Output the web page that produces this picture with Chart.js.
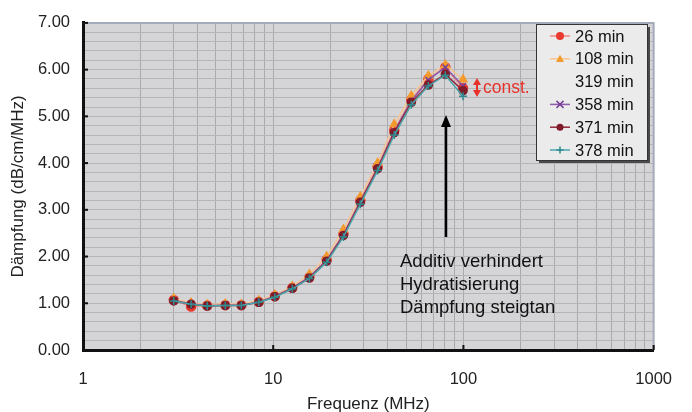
<!DOCTYPE html>
<html lang="de">
<head>
    <meta charset="UTF-8">
    <title>Dämpfung vs Frequenz</title>
    <script src="https://cdn.jsdelivr.net/npm/chart.js"></script>
    <style>
        body { margin: 0; background: #fff; }
        #wrap { width: 692px; height: 412px; }
    </style>
</head>
<body>
<div id="wrap"><canvas id="daempfungChart" width="692" height="412"></canvas></div>
<script>
    // Frequenzen (MHz) und Messreihen (dB/cm/MHz)
    const freq = [3.0, 3.7, 4.5, 5.6, 6.8, 8.4, 10.2, 12.6, 15.5, 19.1, 23.4, 28.7, 35.4, 43.3, 53.2, 65.4, 80.3, 99.5];
    const min26  = [1.07, 0.93, 0.95, 0.96, 0.96, 1.03, 1.15, 1.33, 1.56, 1.93, 2.48, 3.20, 3.92, 4.70, 5.35, 5.80, 6.05, 5.60];
    const min108 = [1.10, 1.01, 0.97, 0.99, 0.98, 1.06, 1.18, 1.36, 1.62, 2.00, 2.58, 3.28, 4.00, 4.83, 5.44, 5.87, 6.10, 5.79];
    const min319 = [1.06, 0.98, 0.95, 0.96, 0.96, 1.03, 1.15, 1.33, 1.55, 1.91, 2.46, 3.17, 3.89, 4.66, 5.31, 5.72, 5.96, 5.58];
    const min358 = [1.06, 0.99, 0.95, 0.96, 0.96, 1.03, 1.15, 1.33, 1.56, 1.92, 2.47, 3.18, 3.90, 4.68, 5.33, 5.78, 6.05, 5.65];
    const min371 = [1.05, 0.98, 0.94, 0.95, 0.95, 1.02, 1.14, 1.32, 1.54, 1.90, 2.45, 3.16, 3.88, 4.65, 5.30, 5.67, 5.90, 5.55];
    const min378 = [1.05, 0.98, 0.94, 0.95, 0.95, 1.02, 1.13, 1.31, 1.53, 1.88, 2.42, 3.12, 3.84, 4.60, 5.25, 5.65, 5.88, 5.43];

    const xTicks = [1, 2, 3, 4, 5, 6, 7, 8, 9, 10, 20, 30, 40, 50, 60, 70, 80, 90, 100, 200, 300, 400, 500, 600, 700, 800, 900, 1000];
    const xLabels = [1, 10, 100, 1000];
    const yLabels = [0, 1, 2, 3, 4, 5, 6, 7];

    const FONT = '"Liberation Sans", Arial, sans-serif';

    function pts(vals) {
        return freq.map((f, i) => ({ x: f, y: vals[i] }));
    }

    // Serien: Reihenfolge wie Legende, spätere liegen oben
    const series = [
        { label: '26 min',  data: min26,  line: '#f3877e', fill: '#e8392f', edge: '#e8392f', style: 'circle',   r: 4.5 },
        { label: '108 min', data: min108, line: '#f6c593', fill: '#f39a2c', edge: '#f39a2c', style: 'triangle', r: 4.5 },
        { label: '319 min', data: min319, line: 'rgba(0,0,0,0)', fill: 'rgba(0,0,0,0)', edge: 'rgba(0,0,0,0)', style: 'circle', r: 0 },
        { label: '358 min', data: min358, line: '#8f5cab', fill: '#7a3f98', edge: '#7a3f98', style: 'crossRot', r: 4 },
        { label: '371 min', data: min371, line: '#93283a', fill: '#7e1c2a', edge: '#7e1c2a', style: 'circle',   r: 4 },
        { label: '378 min', data: min378, line: '#4aa6ab', fill: '#2e8a90', edge: '#2e8a90', style: 'cross',    r: 4 }
    ];

    // Hintergrund + Rahmen der Zeichenfläche
    const plotArea = {
        id: 'plotArea',
        beforeDraw(chart) {
            const { ctx, chartArea: a } = chart;
            ctx.save();
            ctx.fillStyle = '#d5d5d7';
            ctx.fillRect(a.left, a.top, a.right - a.left, a.bottom - a.top);
            ctx.restore();
        },
        afterDraw(chart) {
            const { ctx, chartArea: a, scales } = chart;
            ctx.save();
            // Rahmen oben/rechts
            ctx.strokeStyle = '#a3abbb';
            ctx.lineWidth = 2;
            ctx.beginPath();
            ctx.moveTo(a.left, a.top);
            ctx.lineTo(a.right, a.top);
            ctx.lineTo(a.right, a.bottom);
            ctx.stroke();
            // kleine Striche innen
            ctx.strokeStyle = '#111';
            ctx.lineWidth = 2;
            yLabels.forEach(v => {
                const y = scales.y.getPixelForValue(v);
                ctx.beginPath();
                ctx.moveTo(a.left, y);
                ctx.lineTo(a.left + 5, y);
                ctx.stroke();
            });
            xLabels.forEach(v => {
                const x = scales.x.getPixelForValue(v);
                ctx.beginPath();
                ctx.moveTo(x, a.bottom);
                ctx.lineTo(x, a.bottom - 5);
                ctx.stroke();
            });
            ctx.restore();
        }
    };

    function drawMarker(ctx, style, x, y, r, fill, edge) {
        ctx.fillStyle = fill;
        ctx.strokeStyle = edge;
        ctx.lineWidth = 1.5;
        ctx.beginPath();
        if (style === 'circle') {
            ctx.arc(x, y, r, 0, Math.PI * 2);
            ctx.fill();
        } else if (style === 'triangle') {
            ctx.moveTo(x, y - r);
            ctx.lineTo(x + r, y + r * 0.8);
            ctx.lineTo(x - r, y + r * 0.8);
            ctx.closePath();
            ctx.fill();
        } else if (style === 'crossRot') {
            ctx.moveTo(x - r, y - r); ctx.lineTo(x + r, y + r);
            ctx.moveTo(x + r, y - r); ctx.lineTo(x - r, y + r);
            ctx.stroke();
        } else if (style === 'cross') {
            ctx.moveTo(x - r, y); ctx.lineTo(x + r, y);
            ctx.moveTo(x, y - r); ctx.lineTo(x, y + r);
            ctx.stroke();
        }
    }

    // Legende mit Kasten und Schatten
    const boxLegend = {
        id: 'boxLegend',
        afterDraw(chart) {
            const { ctx } = chart;
            const bx = 536, by = 24, bw = 111, bh = 136;
            ctx.save();
            ctx.fillStyle = '#4a4a4a';
            ctx.fillRect(bx + 3, by + 3, bw, bh);
            ctx.fillStyle = '#ebebeb';
            ctx.fillRect(bx, by, bw, bh);
            ctx.strokeStyle = '#333';
            ctx.lineWidth = 1;
            ctx.strokeRect(bx + 0.5, by + 0.5, bw, bh);
            ctx.font = '16.5px ' + FONT;
            ctx.textBaseline = 'middle';
            series.forEach((s, i) => {
                const y = by + 12 + i * 22.8;
                ctx.strokeStyle = s.line;
                ctx.lineWidth = 1.5;
                ctx.beginPath();
                ctx.moveTo(550, y);
                ctx.lineTo(570, y);
                ctx.stroke();
                if (s.r > 0) drawMarker(ctx, s.style, 560, y, s.r - 0.5, s.fill, s.edge);
                ctx.fillStyle = '#111';
                ctx.fillText(s.label, 575, y + 1);
            });
            ctx.restore();
        }
    };

    // Pfeil und Beschriftungen
    const notes = {
        id: 'notes',
        afterDatasetsDraw(chart) {
            const { ctx } = chart;
            ctx.save();
            // schwarzer Pfeil
            ctx.strokeStyle = '#000';
            ctx.fillStyle = '#000';
            ctx.lineWidth = 2.5;
            ctx.beginPath();
            ctx.moveTo(446, 237);
            ctx.lineTo(446, 124);
            ctx.stroke();
            ctx.beginPath();
            ctx.moveTo(446, 115);
            ctx.lineTo(441, 127);
            ctx.lineTo(451, 127);
            ctx.closePath();
            ctx.fill();
            // roter Doppelpfeil
            ctx.strokeStyle = '#e8312a';
            ctx.fillStyle = '#e8312a';
            ctx.lineWidth = 2;
            ctx.beginPath();
            ctx.moveTo(477, 83);
            ctx.lineTo(477, 92);
            ctx.stroke();
            ctx.beginPath();
            ctx.moveTo(477, 78); ctx.lineTo(473, 85); ctx.lineTo(481, 85); ctx.closePath();
            ctx.fill();
            ctx.beginPath();
            ctx.moveTo(477, 97); ctx.lineTo(473, 90); ctx.lineTo(481, 90); ctx.closePath();
            ctx.fill();
            ctx.font = '17.5px ' + FONT;
            ctx.textBaseline = 'middle';
            ctx.fillText('const.', 483, 88);
            // Text
            ctx.fillStyle = '#111';
            ctx.font = '18.5px ' + FONT;
            ctx.fillText('Additiv verhindert', 400, 262);
            ctx.fillText('Hydratisierung', 400, 285);
            ctx.fillText('Dämpfung steigtan', 400, 308);
            ctx.restore();
        }
    };

    const daempfungChart = new Chart(document.getElementById('daempfungChart').getContext('2d'), {
        type: 'line',
        data: {
            datasets: series.map((s, i) => ({
                label: s.label,
                data: pts(s.data),
                borderColor: s.line,
                borderWidth: 1.5,
                pointStyle: s.style,
                pointRadius: s.r,
                pointBackgroundColor: s.fill,
                pointBorderColor: s.edge,
                pointBorderWidth: 1.5,
                fill: false,
                tension: 0,
                order: series.length - i
            }))
        },
        options: {
            responsive: false,
            animation: false,
            devicePixelRatio: 1,
            layout: { padding: { left: 0, top: 18, right: 35, bottom: 0 } },
            plugins: {
                legend: { display: false },
                tooltip: { enabled: false }
            },
            scales: {
                x: {
                    type: 'logarithmic',
                    min: 1,
                    max: 1000,
                    afterBuildTicks: scale => { scale.ticks = xTicks.map(v => ({ value: v })); },
                    afterFit: scale => { scale.height = 62; },
                    ticks: {
                        autoSkip: false,
                        maxRotation: 0,
                        padding: 20,
                        color: '#222',
                        font: { family: FONT, size: 16.5 },
                        callback: v => xLabels.includes(v) ? String(v) : ''
                    },
                    grid: { color: '#a9a9ae', lineWidth: 1, drawTicks: false },
                    border: { color: '#111', width: 3 },
                    title: {
                        display: true,
                        text: 'Frequenz (MHz)',
                        color: '#222',
                        font: { family: FONT, size: 17 },
                        padding: { top: 0, bottom: -3 }
                    }
                },
                y: {
                    min: 0,
                    max: 7,
                    afterFit: scale => { scale.width = 83; },
                    ticks: {
                        stepSize: 0.2,
                        autoSkip: false,
                        padding: 13,
                        color: '#222',
                        font: { family: FONT, size: 16.5 },
                        callback: v => Math.abs(v - Math.round(v)) < 1e-6 ? Math.round(v).toFixed(2) : ''
                    },
                    grid: { color: '#b5b5b9', lineWidth: 1, drawTicks: false },
                    border: { color: '#111', width: 3 },
                    title: {
                        display: true,
                        text: 'Dämpfung (dB/cm/MHz)',
                        color: '#222',
                        font: { family: FONT, size: 17 },
                        padding: { top: 8, bottom: 0 }
                    }
                }
            }
        },
        plugins: [plotArea, notes, boxLegend]
    });
</script>
</body>
</html>
